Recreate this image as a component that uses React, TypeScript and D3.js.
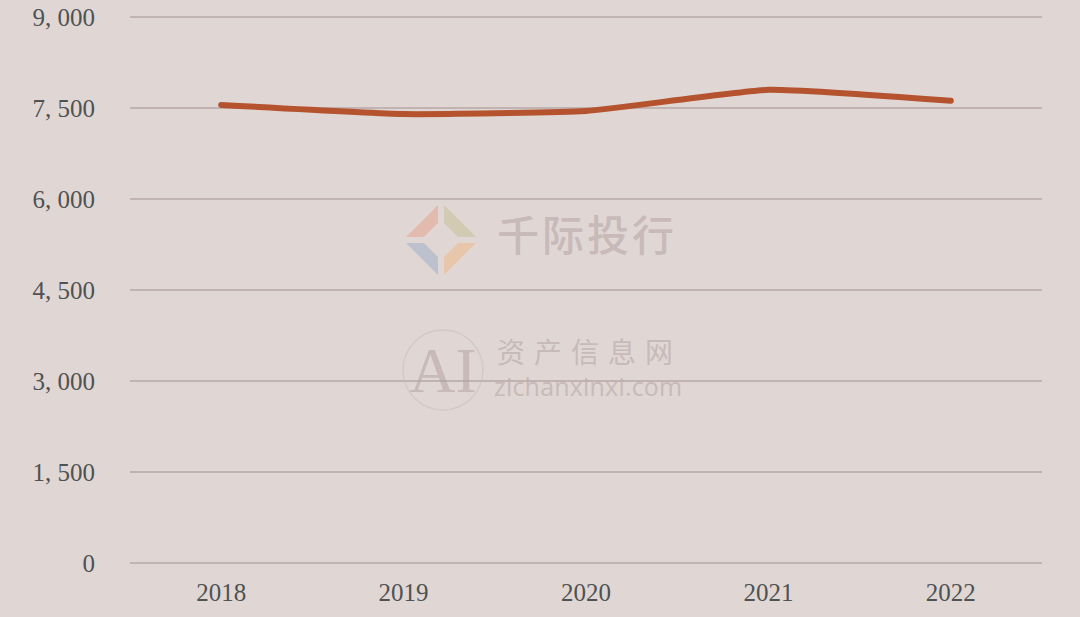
import React from "react";
import * as d3 from "d3";

const years = ["2018", "2019", "2020", "2021", "2022"];
const values = [7550, 7400, 7450, 7800, 7620];
const yTicks = [0, 1500, 3000, 4500, 6000, 7500, 9000];

const W = 1080;
const H = 617;
const M = { left: 130, right: 38, top: 17, bottom: 54 };

export default function App() {
  const x = d3
    .scaleBand<string>()
    .domain(years)
    .range([M.left, W - M.right])
    .paddingInner(0)
    .paddingOuter(0);
  const y = d3.scaleLinear().domain([0, 9000]).range([H - M.bottom, M.top]);
  const cx = (d: string) => (x(d) as number) + x.bandwidth() / 2;
  const line = d3
    .line<number>()
    .x((_, i) => cx(years[i]))
    .y((v) => y(v))
    .curve(d3.curveCardinal.tension(0.6));
  const fmt = (v: number) => d3.format(",")(v).replace(",", ", ");
  const serif = "'Liberation Serif', 'DejaVu Serif', serif";

  const R = 38;
  const t = 15;
  const g = 3;
  const strip = (sx: number, sy: number) => {
    const p1 = [sx * (R - g), sy * g];
    const p2 = [sx * g, sy * (R - g)];
    const p3 = [sx * g, sy * (R - g - t * 1.2)];
    const p4 = [sx * (R - g - t * 1.2), sy * g];
    return `M${p1[0]},${p1[1]} L${p2[0]},${p2[1]} L${p3[0]},${p3[1]} L${p4[0]},${p4[1]} Z`;
  };

  return (
    <svg
      width={W}
      height={H}
      style={{ position: "fixed", left: 0, top: 0, display: "block" }}
    >
      <rect x={0} y={0} width={W} height={H} fill="#e0d7d5" />
      {yTicks.map((tk) => (
        <g key={tk}>
          <line
            x1={M.left}
            x2={W - M.right}
            y1={y(tk)}
            y2={y(tk)}
            stroke="#c0b3b1"
            strokeWidth={2}
          />
          <text
            x={95}
            y={y(tk)}
            dy="0.35em"
            textAnchor="end"
            fontFamily={serif}
            fontSize={25}
            fill="#4f5252"
          >
            {fmt(tk)}
          </text>
        </g>
      ))}
      {years.map((yr) => (
        <text
          key={yr}
          x={cx(yr)}
          y={601}
          textAnchor="middle"
          fontFamily={serif}
          fontSize={25}
          fill="#4f5252"
        >
          {yr}
        </text>
      ))}
      {/* watermark */}
      <g opacity={0.55}>
        <g transform="translate(441,240)">
          <path d={strip(-1, -1)} fill="#e6a58f" strokeLinejoin="round" />
          <path d={strip(1, -1)} fill="#c9c19a" />
          <path d={strip(-1, 1)} fill="#9fb0c8" />
          <path d={strip(1, 1)} fill="#f0b98a" />
        </g>
        <text
          x={497}
          y={251}
          fontFamily="'Noto Sans CJK SC', sans-serif"
          fontSize={42}
          fontWeight={500}
          fill="#b5a3a2"
          letterSpacing={3}
        >
          千际投行
        </text>
        <circle cx={443} cy={370} r={40} fill="none" stroke="#cdbdbb" strokeWidth={1.5} />
        <text
          x={443}
          y={392}
          textAnchor="middle"
          fontFamily={serif}
          fontSize={64}
          fill="#b5a3a2"
        >
          AI
        </text>
        <text
          x={497}
          y={363}
          fontFamily="'Noto Sans CJK SC', sans-serif"
          fontSize={28}
          fill="#b5a3a2"
          letterSpacing={9}
        >
          资产信息网
        </text>
        <text
          x={494}
          y={396}
          fontFamily="'Open Sans', sans-serif"
          fontSize={25}
          fill="#b5a3a2"
          letterSpacing={0.2}
        >
          zichanxinxi.com
        </text>
      </g>
      <path
        d={line(values) || ""}
        fill="none"
        stroke="#b4532e"
        strokeWidth={6}
        strokeLinecap="round"
        strokeLinejoin="round"
      />
    </svg>
  );
}
